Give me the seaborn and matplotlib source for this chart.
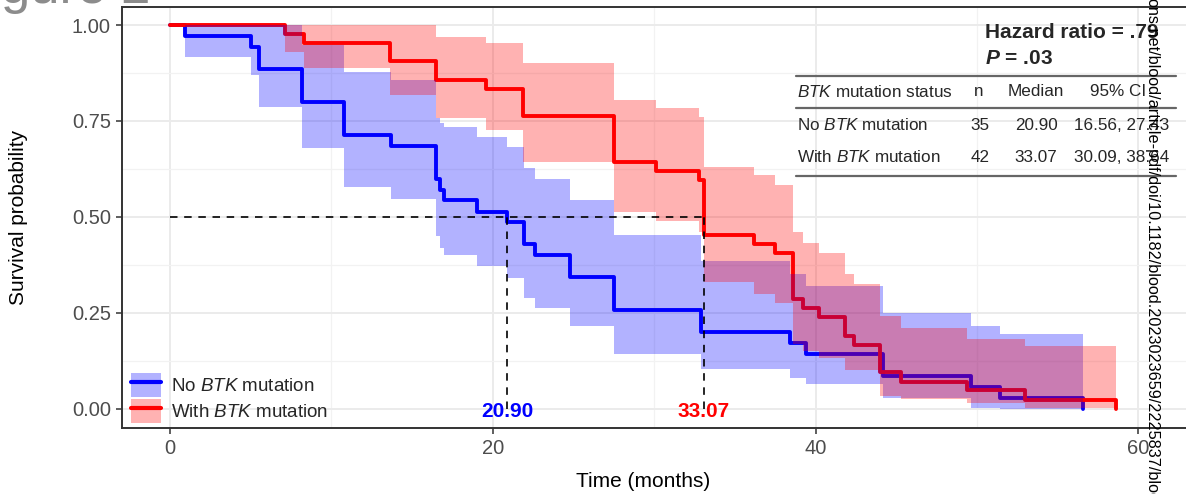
import matplotlib
matplotlib.use("Agg")
import matplotlib.pyplot as plt
import seaborn as sns
import pandas as pd
from matplotlib.patches import Patch
from matplotlib.lines import Line2D
from matplotlib.ticker import MultipleLocator

# Kaplan-Meier steps
groups = ["No BTK mutation", "With BTK mutation"]
labels = [r"No $\mathit{BTK}$ mutation", r"With $\mathit{BTK}$ mutation"]
colors = ["#0000FF", "#FF0000"]

no_time = [0, 0.9, 5.0, 5.5, 8.2, 10.8, 13.7, 16.5, 16.75, 17.0, 19.0, 20.9,
           21.9, 22.6, 24.8, 27.5, 32.9, 38.4, 39.4, 44.2, 49.6, 51.4, 56.6]
no_surv = [1, .971, .943, .886, .8, .714, .686, .6, .571, .543, .514, .486,
           .429, .4, .343, .257, .2, .171, .143, .086, .057, .029, 0]
no_upper = [1, 1, 1, 1, .948, .877, .856, .757, .745, .734, .708, .681,
            .627, .6, .543, .452, .386, .352, .319, .25, .217, .196, .196]
no_lower = [1, .916, .869, .786, .679, .577, .548, .45, .42, .4, .373, .342,
            .29, .263, .217, .144, .104, .081, .065, .029, .003, 0, 0]

btk_time = [0, 7.15, 8.3, 13.6, 16.5, 19.6, 21.85, 27.5, 30.1, 32.8, 33.07,
            36.2, 37.5, 38.6, 39.2, 40.2, 41.8, 42.4, 44.0, 45.3, 49.4, 53.0, 58.6]
btk_surv = [1, .976, .952, .905, .857, .833, .762, .643, .619, .595, .452,
            .429, .405, .286, .262, .238, .190, .167, .095, .071, .048, .024, 0]
btk_upper = [1, 1, 1, 1, .969, .953, .901, .804, .783, .76, .63,
             .608, .582, .46, .433, .407, .352, .324, .243, .211, .183, .164, .164]
btk_lower = [1, .93, .888, .817, .757, .726, .642, .512, .49, .46, .33,
             .30, .277, .17, .15, .133, .10, .10, .034, .026, .016, .003, .003]

medians = [20.90, 33.07]
median_text = ["20.90", "33.07"]
n_patients = ["35", "42"]
ci_text = ["16.56, 27.43", "30.09, 38.64"]

sns.set_theme(style="whitegrid")
plt.rcParams["font.family"] = ["Liberation Sans", "DejaVu Sans"]
plt.rcParams["mathtext.fontset"] = "custom"
plt.rcParams["mathtext.rm"] = "Liberation Sans"
plt.rcParams["mathtext.it"] = "Liberation Sans:italic"
plt.rcParams["mathtext.bf"] = "Liberation Sans:bold"
plt.rcParams["mathtext.bfit"] = "Liberation Sans:italic:bold"

W, H = 1186, 494
fig = plt.figure(figsize=(W / 100, H / 100), dpi=100)
ax = fig.add_axes([122 / W, (H - 428) / H, (1190 - 122) / W, (428 - 7) / H])

df = pd.concat([
    pd.DataFrame({"time": no_time, "surv": no_surv, "group": groups[0]}),
    pd.DataFrame({"time": btk_time, "surv": btk_surv, "group": groups[1]}),
])

sns.lineplot(data=df, x="time", y="surv", hue="group",
             palette=dict(zip(groups, colors)), drawstyle="steps-post",
             estimator=None, sort=False, linewidth=2.8, legend=False,
             ax=ax, zorder=2)

bands = [(no_time, no_lower, no_upper), (btk_time, btk_lower, btk_upper)]
for (t, lo, hi), c in zip(bands, colors):
    ax.fill_between(t, lo, hi, step="post", color=c, alpha=0.3,
                    linewidth=0, zorder=3)

# median lines
dash = (0, (4.5, 4))
ax.plot([0, max(medians)], [0.5, 0.5], color="black", lw=1.2, ls=dash, zorder=4)
for m, txt, c in zip(medians, median_text, colors):
    ax.plot([m, m], [0, 0.5], color="black", lw=1.2, ls=dash, zorder=4)
    ax.text(m, -0.006, txt, color=c, fontsize=15, fontweight="bold",
            ha="center", va="center", zorder=5)

ax.set_xlim(-2.98, 63.2)
ax.set_ylim(-0.05, 1.047)
ax.xaxis.set_major_locator(MultipleLocator(20))
ax.xaxis.set_minor_locator(MultipleLocator(10))
ax.yaxis.set_major_locator(MultipleLocator(0.25))
ax.yaxis.set_minor_locator(MultipleLocator(0.125))
ax.yaxis.set_major_formatter(lambda v, p: f"{v:.2f}")
ax.grid(which="major", color="#EBEBEB", lw=1.4)
ax.grid(which="minor", color="#F2F2F2", lw=0.9)
ax.set_axisbelow(True)
for s in ax.spines.values():
    s.set_color("#333333")
    s.set_linewidth(1.4)
ax.tick_params(axis="both", which="major", length=4, width=1.1, color="#333333",
               labelcolor="#4D4D4D", labelsize=14.5, left=True, bottom=True, pad=4)
ax.tick_params(axis="both", which="minor", length=0)

ax.set_xlabel("Time (months)", fontsize=15, color="black")
ax.set_ylabel("Survival probability", fontsize=15, color="black")
ax.xaxis.set_label_coords((643 - 122) / 1068, (428 - 472) / 421)
ax.yaxis.set_label_coords((28 - 122) / 1068, 0.5)

handles = [(Patch(facecolor=c, alpha=0.3, linewidth=0),
            Line2D([], [], color=c, lw=3)) for c in colors]
ax.legend(handles=handles, labels=labels, loc="lower left",
          bbox_to_anchor=((131 - 122) / 1068, (428 - 423) / 421),
          frameon=False, fontsize=13.5, handlelength=1.6, handleheight=1.6,
          labelspacing=0.12, handletextpad=0.55, borderpad=0, borderaxespad=0)

# summary table
def fx(px):
    return px / W

def fy(py):
    return 1 - py / H

fig.text(fx(985), fy(32), "Hazard ratio = .79", fontsize=15, fontweight="bold",
         ha="left", va="center")
fig.text(fx(985), fy(58), r"$\mathbfit{P}$ = .03", fontsize=15, fontweight="bold",
         ha="left", va="center")
for yy in [76, 108, 176]:
    fig.add_artist(Line2D([fx(796), fx(1176)], [fy(yy), fy(yy)],
                          color="#666666", lw=1.6))
tsize = 12.3
fig.text(fx(797), fy(92), r"$\mathit{BTK}$ mutation status", fontsize=tsize,
         ha="left", va="center")
fig.text(fx(979), fy(92), "n", fontsize=tsize, ha="center", va="center")
fig.text(fx(1036), fy(92), "Median", fontsize=tsize, ha="center", va="center")
fig.text(fx(1118), fy(92), "95% CI", fontsize=tsize, ha="center", va="center")
for i, yy in enumerate([125, 157]):
    fig.text(fx(797), fy(yy), labels[i], fontsize=tsize, ha="left", va="center")
    fig.text(fx(980), fy(yy), n_patients[i], fontsize=tsize, ha="center", va="center")
    fig.text(fx(1036), fy(yy), median_text[i], fontsize=tsize, ha="center", va="center")
    fig.text(fx(1122), fy(yy), ci_text[i], fontsize=tsize, ha="center", va="center")

# page remnants: figure heading and vertical download stamp
fig.text(fx(150), fy(3), "Figure 2", fontsize=38, color="#8C8C8C",
         ha="right", va="baseline")
fig.text(fx(1152), 1.004, "ons.net/blood/article-pdf/doi/10.1182/blood.2023023659/2225837/blood",
         fontsize=11.7, rotation=270, ha="center", va="top", color="black")

fig.savefig("out.png", dpi=100)
